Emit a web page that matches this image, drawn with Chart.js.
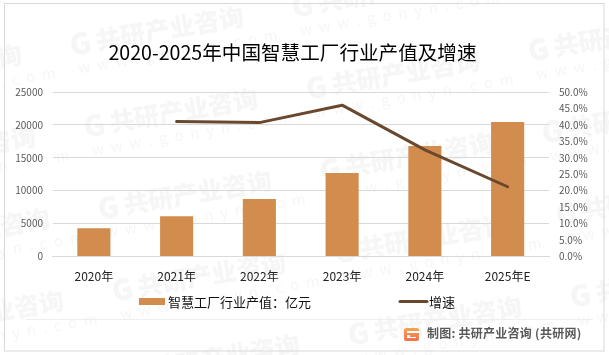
<!DOCTYPE html>
<html lang="zh">
<head>
<meta charset="utf-8">
<script src="https://cdn.jsdelivr.net/npm/chart.js@4"></script>
<style>
html,body{margin:0;padding:0;background:#fff}
#box{position:absolute;left:0;top:0;width:609px;height:355px}
</style>
</head>
<body>
<div id="box"><canvas id="c" width="609" height="355"></canvas></div>
<script>
const categories = ['2020年','2021年','2022年','2023年','2024年','2025年E'];
const outputValues = [4300, 6130, 8720, 12680, 16790, 20440];
const growthValues = [null, 41.0, 40.7, 46.0, 32.4, 21.2];
const seriesNames = ['智慧工厂行业产值：亿元','增速'];
const chartTitle = '2020-2025年中国智慧工厂行业产值及增速';
const sourceText = '制图: 共研产业咨询 (共研网)';
const watermarkName = '共研产业咨询';
const watermarkUrl = 'w w w . g o n y n . c o m';

const FONT = '"Noto Sans CJK SC","Noto Sans",sans-serif';
const BAR = '#D28C4E', LINE = '#69482E';

const decor = {
  id:'decor',
  beforeDraw(chart){
    const c = chart.ctx;
    c.save();
    c.fillStyle='#fff'; c.fillRect(0,0,609,355);
    // watermark
    for(let i=-1;i<4;i++){
      for(let j=-1;j<6;j++){
        const x = 70 + i*222 + j*14, y = 45 - i*38 + j*82;
        c.save();
        c.translate(x,y); c.rotate(-0.167);
        c.fillStyle='#f6f6f6';
        c.font='900 29px '+FONT; c.textBaseline='middle'; c.textAlign='left';
        c.fillText('G',0,0);
        c.font='900 25px '+FONT;
        c.fillText(watermarkName,26,0);
        c.font='15px '+FONT;
        c.letterSpacing='1.8px';
        c.fillText(watermarkUrl,4,24);
        c.letterSpacing='0px';
        c.restore();
      }
    }
    // frame
    c.strokeStyle='#d9d9d9'; c.lineWidth=1;
    c.strokeRect(4.5,3.5,599.5,347.5);
    // footer rule
    c.strokeStyle='#eeeeee';
    c.beginPath(); c.moveTo(26,319.5); c.lineTo(593,319.5); c.stroke();
    // title
    c.fillStyle='#000'; c.font='19.6px '+FONT; c.textAlign='center'; c.textBaseline='middle';
    c.fillText(chartTitle,292.5,53);
    // legend
    c.textAlign='left'; c.font='13px '+FONT;
    c.fillStyle=BAR; c.fillRect(139,298,26,7);
    c.fillStyle='#111'; c.fillText(seriesNames[0],168,302);
    c.strokeStyle=LINE; c.lineWidth=3; c.lineCap='round';
    c.beginPath(); c.moveTo(400,301.5); c.lineTo(427,301.5); c.stroke();
    c.fillStyle='#111'; c.fillText(seriesNames[1],429,302);
    // source
    const g=c.createLinearGradient(404,327,404,341);
    g.addColorStop(0,'#F9A84F'); g.addColorStop(1,'#EF6F50');
    c.fillStyle=g;
    c.beginPath(); c.roundRect(404,328,15,13,2); c.fill();
    c.fillStyle='#fff'; c.fillRect(407,331,12,2); c.fillRect(407,335,3,3); c.fillRect(410,337,6,1);
    c.fillStyle='#595959'; c.font='bold 12px '+FONT; c.textBaseline='middle';
    c.letterSpacing='0.25px';
    c.fillText(sourceText,427,333);
    c.letterSpacing='0px';
    c.restore();
  }
};

new Chart(document.getElementById('c'),{
  data:{
    labels:categories,
    datasets:[
      {type:'line',label:seriesNames[1],data:growthValues,yAxisID:'y1',borderColor:LINE,borderWidth:3,pointRadius:0,tension:0,spanGaps:false,order:0,borderCapStyle:'round',borderJoinStyle:'round'},
      {type:'bar',label:seriesNames[0],data:outputValues,yAxisID:'y',backgroundColor:BAR,categoryPercentage:1,barPercentage:0.4,order:1}
    ]
  },
  plugins:[decor],
  options:{
    responsive:false,animation:false,
    layout:{padding:{left:0,right:0,top:92,bottom:0}},
    plugins:{legend:{display:false},title:{display:false},tooltip:{enabled:false}},
    scales:{
      x:{
        grid:{display:false},border:{color:'#d9d9d9'},
        ticks:{color:'#222',font:{size:12,family:FONT},padding:5,maxRotation:0,autoSkip:false},
        afterFit(s){s.height=98.5;}
      },
      y:{
        position:'left',min:0,max:25000,
        grid:{color:'#d9d9d9',drawTicks:false},border:{display:false},
        ticks:{stepSize:5000,color:'#595959',font:{size:10,family:FONT},padding:9.5,callback:v=>String(v)},
        afterFit(s){s.width=52.5;}
      },
      y1:{
        position:'right',min:0,max:50,
        grid:{display:false,drawTicks:false},border:{display:false},
        ticks:{stepSize:5,color:'#595959',font:{size:10,family:FONT},padding:10,callback:v=>v.toFixed(1)+'%'},
        afterFit(s){s.width=60;}
      }
    }
  }
});
</script>
</body>
</html>
